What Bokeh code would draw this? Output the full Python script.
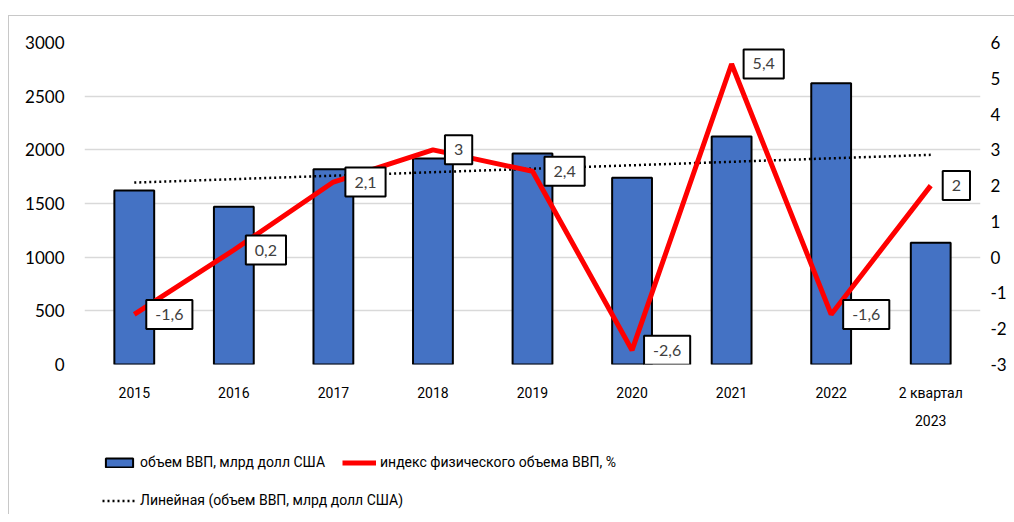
import numpy as np
from bokeh.plotting import figure
from bokeh.layouts import column, row
from bokeh.models import (LinearAxis, Range1d, FactorRange, Legend, LegendItem,
                          FixedTicker, Spacer)
from bokeh.core.properties import value
from bokeh.embed import file_html
from bokeh.resources import INLINE

categories = ["2015", "2016", "2017", "2018", "2019", "2020", "2021", "2022", "2 квартал\n2023"]
gdp = [1620, 1470, 1820, 1920, 1965, 1740, 2125, 2620, 1135]
index_pct = [-1.6, 0.2, 2.1, 3.0, 2.4, -2.6, 5.4, -1.6, 2.0]
index_labels = ["-1,6", "0,2", "2,1", "3", "2,4", "-2,6", "5,4", "-1,6", "2"]
left_ticks = [0, 500, 1000, 1500, 2000, 2500, 3000]
right_ticks = [-3, -2, -1, 0, 1, 2, 3, 4, 5, 6]
legend_labels = ["объем ВВП, млрд долл США", "индекс физического объема ВВП, %",
                 "Линейная (объем ВВП, млрд долл США)"]

# linear trend of GDP volume (Excel "Линейная")
xi = np.arange(len(gdp))
slope, intercept = np.polyfit(xi, gdp, 1)
trend = list(slope * xi + intercept)

BAR_COLOR = "#4472C4"
RED = "#FF0000"
NAN = float("nan")

p = figure(x_range=FactorRange(*categories), y_range=Range1d(0, 3000),
           width=1005, height=424, output_backend="svg", toolbar_location=None,
           min_border_left=75, min_border_right=34, min_border_top=26, min_border_bottom=76)
p.extra_y_ranges = {"right": Range1d(-3, 6)}

p.vbar(x=categories, top=gdp, width=0.4, fill_color=BAR_COLOR,
       line_color="black", line_width=2)
p.line(categories, trend, line_color="black", line_width=2.5, line_dash="2 3")
p.line(categories, index_pct, y_range_name="right", line_color=RED, line_width=5)
p.text(x=categories, y=index_pct, text=index_labels, y_range_name="right",
       anchor="center_left", x_offset=12, padding=(9, 9),
       border_line_color="black", border_line_width=2, background_fill_color="white",
       text_color="#404040", text_font=value("Lato"), text_font_size="16px",
       text_align="left", text_baseline="middle")

p.outline_line_color = None
p.xgrid.grid_line_color = None
p.ygrid.grid_line_color = "#D9D9D9"
p.ygrid.grid_line_width = 1.5
p.yaxis.ticker = FixedTicker(ticks=left_ticks)

ra = LinearAxis(y_range_name="right", ticker=FixedTicker(ticks=right_ticks))
ra.major_label_overrides = {t: str(t) for t in right_ticks}
p.add_layout(ra, "right")

for ax in [p.xaxis[0], p.yaxis[0], ra]:
    ax.axis_line_color = None
    ax.major_tick_line_color = None
    ax.minor_tick_line_color = None
    ax.major_tick_out = 0
    ax.major_tick_in = 0
    ax.major_label_text_color = "#000000"
    ax.major_label_text_font = "Lato"
    ax.major_label_text_font_size = "17px"

p.yaxis[0].major_label_standoff = 20
ra.major_label_standoff = 10
p.xaxis[0].major_label_standoff = 20
p.xaxis[0].major_label_text_font = "Roboto"
p.xaxis[0].major_label_text_font_size = "14px"
p.xaxis[0].major_label_text_line_height = 1.8

# legend panel below the chart (frame aligned with the chart frame)
lg = figure(width=1005, height=74, x_range=Range1d(0, 1005), y_range=Range1d(0, 74),
            output_backend="svg", toolbar_location=None,
            min_border_left=0, min_border_right=0, min_border_top=0, min_border_bottom=0)
lg.axis.visible = False
lg.grid.grid_line_color = None
lg.outline_line_color = None
# empty sample renderers that only feed the legend keys
r_bar = lg.vbar(x=[NAN], bottom=[NAN], top=[NAN], width=1,
                fill_color=BAR_COLOR, line_color="black", line_width=2)
r_line = lg.line(x=[NAN, NAN], y=[NAN, NAN], line_color=RED, line_width=5)
r_trend = lg.line(x=[NAN, NAN], y=[NAN, NAN], line_color="black",
                  line_width=2.5, line_dash="2 3")


def mk_legend(items, loc):
    L = Legend(items=items, location=loc, orientation="vertical")
    L.label_text_font = "Roboto"
    L.label_text_font_size = "14px"
    L.label_text_color = "#000000"
    L.glyph_width = 34
    L.glyph_height = 11
    L.label_height = 24
    L.label_standoff = 4
    L.spacing = 14
    L.padding = 0
    L.margin = 0
    L.border_line_color = None
    L.background_fill_alpha = 0
    return L


lg.add_layout(mk_legend([LegendItem(label=legend_labels[0], renderers=[r_bar]),
                         LegendItem(label=legend_labels[2], renderers=[r_trend])], (18, 2)), "center")
lg.add_layout(mk_legend([LegendItem(label=legend_labels[1], renderers=[r_line])], (258, 40)), "center")

inner = column(p, lg, spacing=0,
               styles={"border-top": "1px solid #C8C8C8", "border-left": "1px solid #C8C8C8"})
layout = column(Spacer(height=15, width=1014), row(Spacer(width=8, height=10), inner, spacing=0), spacing=0)

open("out.html", "w").write(file_html(layout, INLINE))
